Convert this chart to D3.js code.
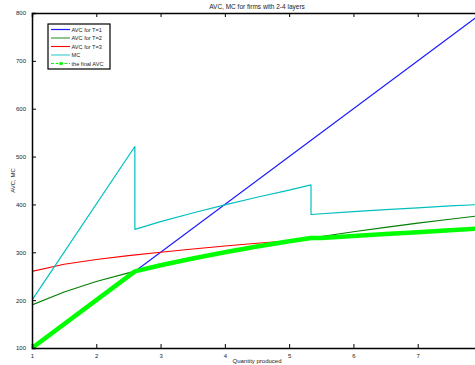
<!DOCTYPE html>
<html lang="en">
<head>
    <meta charset="UTF-8">
    <title>AVC, MC for firms with 2-4 layers</title>
    <style>
        html, body {
            margin: 0px;
            padding: 0px;
            background-color: white;
            overflow: hidden;
        }
        #vis {
            width: 475px;
            height: 365px;
        }
        text {
            font-family: 'Liberation Sans', Arial, sans-serif;
            fill: #222;
        }
        .line {
            fill: none;
        }
    </style>
</head>
<body>
    <div id="vis"></div>
    <script src="https://d3js.org/d3.v7.min.js"></script>
    <script>

        // values
        var qAll = [1, 8];
        var avcT1 = [100, 800];

        var qCurve = [1, 1.5, 2, 2.5, 3, 3.5, 4, 4.5, 5, 5.5, 6, 6.5, 7, 7.5, 8];
        var avcT2 = [190, 217, 239, 257, 273, 287, 300, 312, 323, 333, 343, 352, 361, 369, 377];
        var avcT3 = [260, 275, 285, 293, 300, 307, 313, 319, 324, 329, 334, 338, 342, 346, 350];

        var qMC = [1, 2.6, 2.6, 3, 3.5, 4, 4.5, 5, 5.34, 5.34, 6, 6.5, 7, 7.5, 8];
        var mcVals = [200, 521, 348, 364, 382, 399, 415, 430, 441, 379, 385, 389, 393, 397, 400];

        var qFinal = [1, 2.6, 3, 3.5, 4, 4.5, 5, 5.34, 5.5, 6, 6.5, 7, 7.5, 8];
        var finalAVC = [100, 260, 273, 287, 300, 312, 323, 330, 330, 334, 338, 342, 346, 350];

        var xTicks = [1, 2, 3, 4, 5, 6, 7];
        var yTicks = [100, 200, 300, 400, 500, 600, 700, 800];

        var legendNames = ["AVC for T=1", "AVC for T=2", "AVC for T=3", "MC", "the final AVC"];

        var width = 475;
        var height = 365;

        // plot box (right side runs past the window, like the reference)
        var mLeft = 32, mTop = 13, mRight = 482, mBottom = 348;

        var svg = d3.select("#vis")
            .append("svg")
            .attr("width", width)
            .attr("height", height);

        var x_scale = d3.scaleLinear()
            .domain([1, 8])
            .range([mLeft, mRight]);

        var y_scale = d3.scaleLinear()
            .domain([100, 800])
            .range([mBottom, mTop]);

        var line = d3.line()
            .x(function(d){ return x_scale(d[0]); })
            .y(function(d){ return y_scale(d[1]); });

        function pairs(xs, ys){
            return xs.map(function(v, i){ return [v, ys[i]]; });
        }

        svg.append("clipPath").attr("id", "plotclip")
            .append("rect")
            .attr("x", mLeft).attr("y", mTop)
            .attr("width", mRight - mLeft).attr("height", mBottom - mTop);

        var plot = svg.append("g").attr("clip-path", "url(#plotclip)");

        var series = [
            {data: pairs(qAll, avcT1), color: "#1a1aff", w: 1.2},
            {data: pairs(qCurve, avcT2), color: "#007f00", w: 1.1},
            {data: pairs(qCurve, avcT3), color: "#ff0000", w: 1.1},
            {data: pairs(qMC, mcVals), color: "#00bfbf", w: 1.2},
            {data: pairs(qFinal, finalAVC), color: "#00ff00", w: 4.5}
        ];

        series.forEach(function(s){
            plot.append("path")
                .attr("class", "line")
                .attr("d", line(s.data))
                .attr("stroke", s.color)
                .attr("stroke-width", s.w)
                .attr("stroke-linejoin", "round");
        });

        // axes, matlab style with inward ticks
        var x_bottom = d3.axisBottom(x_scale).tickValues(xTicks).tickSize(-4).tickPadding(6).tickFormat(d3.format("d"));
        var x_top = d3.axisTop(x_scale).tickValues(xTicks).tickSize(-4).tickFormat("");
        var y_left = d3.axisLeft(y_scale).tickValues(yTicks).tickSize(-4).tickPadding(6).tickFormat(d3.format("d"));

        var gx = svg.append("g")
            .attr("transform", "translate(0," + mBottom + ")")
            .call(x_bottom);
        var gxt = svg.append("g")
            .attr("transform", "translate(0," + mTop + ")")
            .call(x_top);
        var gy = svg.append("g")
            .attr("transform", "translate(" + mLeft + ",0)")
            .call(y_left);

        [gx, gxt, gy].forEach(function(g){
            g.select(".domain").attr("stroke", "#000").attr("stroke-width", 1.5);
            g.selectAll(".tick line").attr("stroke", "#000");
            g.selectAll(".tick text").attr("font-size", 6).attr("fill", "#222")
                .style("font-family", "'Liberation Sans', Arial, sans-serif");
        });
        gx.selectAll(".tick text").attr("dy", "0.6em");

        // titles
        svg.append("text")
            .attr("x", (mLeft + mRight) / 2)
            .attr("y", 8.5)
            .attr("text-anchor", "middle")
            .attr("font-size", 6.5)
            .text("AVC, MC for firms with 2-4 layers");

        svg.append("text")
            .attr("x", (mLeft + mRight) / 2)
            .attr("y", 363)
            .attr("text-anchor", "middle")
            .attr("font-size", 6)
            .text("Quantity produced");

        svg.append("text")
            .attr("transform", "translate(15," + y_scale(450) + ") rotate(-90)")
            .attr("text-anchor", "middle")
            .attr("font-size", 6)
            .text("AVC, MC");

        // legend
        var legend = svg.append("g").attr("transform", "translate(48,24)");
        legend.append("rect")
            .attr("x", 0).attr("y", 0)
            .attr("width", 62).attr("height", 45)
            .attr("fill", "white")
            .attr("stroke", "#000")
            .attr("stroke-width", 1.2);

        var legendStyle = [
            {color: "#1a1aff", w: 1.2},
            {color: "#7fbf7f", w: 1.8},
            {color: "#ff0000", w: 1.1},
            {color: "#33cccc", w: 1.1},
            {color: "#00ff00", w: 1, dash: "3,1.5", marker: true}
        ];

        legendNames.forEach(function(name, i){
            var yy = 5.5 + i * 8.5;
            var st = legendStyle[i];
            legend.append("line")
                .attr("x1", 3).attr("x2", 22)
                .attr("y1", yy).attr("y2", yy)
                .attr("stroke", st.color)
                .attr("stroke-width", st.w)
                .attr("stroke-dasharray", st.dash || null);
            if (st.marker) {
                legend.append("rect")
                    .attr("x", 11.5).attr("y", yy - 1.5)
                    .attr("width", 3).attr("height", 3)
                    .attr("fill", st.color);
            }
            legend.append("text")
                .attr("x", 23.5)
                .attr("y", yy + 2)
                .attr("font-size", 5.6)
                .text(name);
        });

    </script>
</body>
</html>
